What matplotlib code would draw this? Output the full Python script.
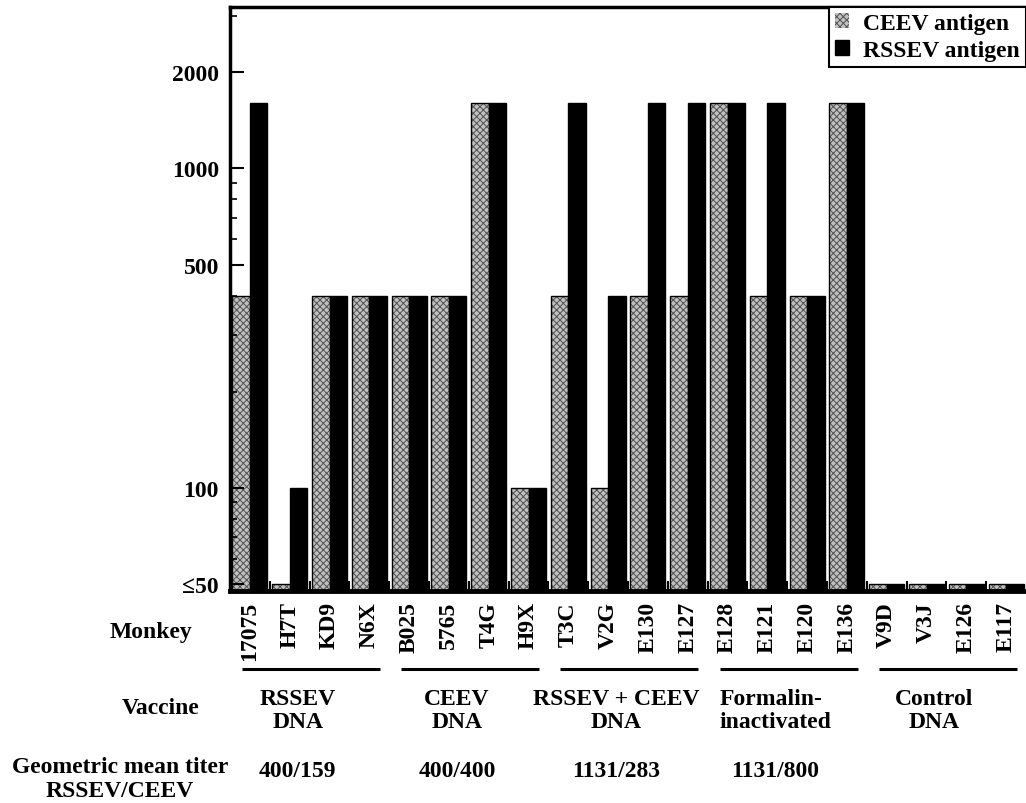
import numpy as np
import matplotlib
matplotlib.use("Agg")
import matplotlib.pyplot as plt
import matplotlib.transforms as mtransforms
from matplotlib.patches import Patch

# ======================
# 数据
# ======================
monkeys = ['17075', 'H7T', 'KD9', 'N6X',
           'B025', '5765', 'T4G', 'H9X',
           'T3C', 'V2G', 'E130', 'E127',
           'E128', 'E121', 'E120', 'E136',
           'V9D', 'V3J', 'E126', 'E117']
ceev = [400, 50, 400, 400,
        400, 400, 1600, 100,
        400, 100, 400, 400,
        1600, 400, 400, 1600,
        50, 50, 50, 50]
rssev = [1600, 100, 400, 400,
         400, 400, 1600, 100,
         1600, 400, 1600, 1600,
         1600, 1600, 400, 1600,
         50, 50, 50, 50]
vaccines = ['RSSEV\nDNA', 'CEEV\nDNA', 'RSSEV + CEEV\nDNA',
            'Formalin-\ninactivated', 'Control\nDNA']
gmt = ['400/159', '400/400', '1131/283', '1131/800', '']
ytick_vals = [50, 100, 500, 1000, 2000]
ytick_labels = ['≤50', '100', '500', '1000', '2000']
yminor_vals = [60, 70, 80, 90, 200, 300, 400, 600, 700, 800, 900, 3000]

plt.rcParams['font.family'] = ['Liberation Serif', 'DejaVu Serif']
plt.rcParams['font.weight'] = 'bold'
plt.rcParams['hatch.linewidth'] = 0.7
FS = 17

fig = plt.figure(figsize=(10.26, 8.04), dpi=100)
ax = fig.add_axes([0.2242, 0.2637, 0.7758, 0.7264])

x = np.arange(len(monkeys))
w = 0.44
base = 47.5

# CEEV：灰色点状填充；RSSEV：黑色
ax.bar(x - w / 2, np.array(ceev) - base, w, bottom=base, color='#c0c0c0',
       hatch='xxxxx', edgecolor='#505050', linewidth=0)
ax.bar(x - w / 2, np.array(ceev) - base, w, bottom=base, fill=False,
       edgecolor='black', linewidth=1)
ax.bar(x + w / 2, np.array(rssev) - base, w, bottom=base, color='black',
       edgecolor='black', linewidth=1)

ax.set_yscale('log')
ax.set_ylim(base, 3205)
ax.set_xlim(-0.5, len(monkeys) - 0.5)

ax.set_yticks(ytick_vals)
ax.set_yticklabels(ytick_labels, fontsize=FS, fontweight='bold')
ax.set_yticks(yminor_vals, minor=True)
ax.yaxis.set_minor_formatter(plt.NullFormatter())
ax.tick_params(axis='y', which='major', direction='in', length=10, width=1.5, pad=8)
ax.tick_params(axis='y', which='minor', direction='in', length=5, width=1.2)

ax.set_xticks(x[1:] - 0.5)
ax.set_xticklabels([])
ax.tick_params(axis='x', which='major', direction='in', length=7, width=1.5)

for s in ['left', 'top']:
    ax.spines[s].set_linewidth(2.5)
ax.spines['bottom'].set_linewidth(3.5)
ax.spines['right'].set_visible(False)

leg = ax.legend(handles=[Patch(facecolor='#c0c0c0', hatch='xxxxx', edgecolor='#505050', linewidth=0),
                         Patch(facecolor='black', edgecolor='black')],
                labels=['CEEV antigen', 'RSSEV antigen'],
                loc='upper right', bbox_to_anchor=(1.0, 1.0), borderaxespad=0,
                fancybox=False, edgecolor='black', framealpha=1,
                handlelength=0.6, handleheight=0.6, handletextpad=0.6,
                borderpad=0.25, labelspacing=0.25, prop={'size': FS, 'weight': 'bold'})
leg.get_frame().set_linewidth(1.5)

# 下方标注
trans = mtransforms.blended_transform_factory(ax.transData, fig.transFigure)
for i, m in enumerate(monkeys):
    ax.text(i, 0.2512, m, transform=trans, rotation=90, ha='center', va='top',
            fontsize=FS, fontweight='bold')

for g, (vac, t) in enumerate(zip(vaccines, gmt)):
    start = g * 4
    ax.plot([start - 0.2, start + 3.27], [0.1667, 0.1667], transform=trans,
            color='black', lw=2.2, clip_on=False, solid_capstyle='butt')
    ax.text(start + 1.5 - 0.3, 0.1157, vac, transform=trans, ha='center', va='center',
            multialignment='left' if vac.startswith('Formalin') else 'center',
            linespacing=1.15, fontsize=FS, fontweight='bold')
    if t:
        ax.text(start + 1.5 - 0.3, 0.041, t, transform=trans, ha='center', va='center',
                fontsize=FS, fontweight='bold')

fig.text(0.147, 0.2139, 'Monkey', ha='center', va='center', fontsize=FS, fontweight='bold')
fig.text(0.157, 0.1194, 'Vaccine', ha='center', va='center', fontsize=FS, fontweight='bold')
fig.text(0.117, 0.0305, 'Geometric mean titer\nRSSEV/CEEV', ha='center', va='center',
         linespacing=1.15, fontsize=FS, fontweight='bold')

fig.savefig('out.png', dpi=100)
